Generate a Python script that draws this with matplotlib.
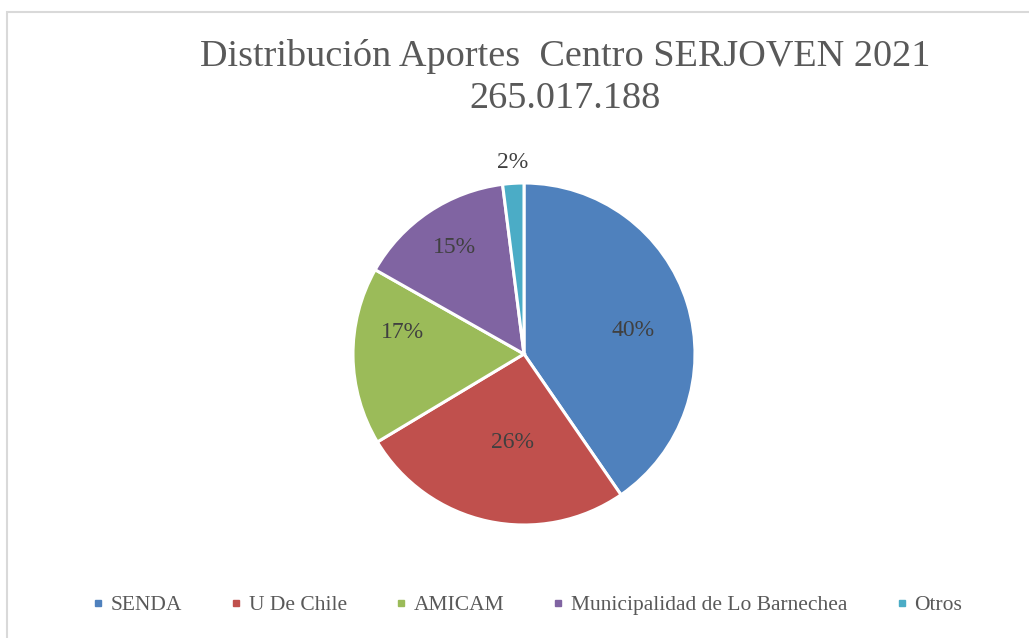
import matplotlib
matplotlib.use("Agg")
import matplotlib.pyplot as plt
from matplotlib.lines import Line2D
from matplotlib.patches import Rectangle

# data
categories = ["SENDA", "U De Chile", "AMICAM", "Municipalidad de Lo Barnechea", "Otros"]
shares = [40.4, 26.0, 16.8, 14.8, 2.0]
colors = ["#4F81BD", "#C0504D", "#9BBB59", "#8064A2", "#4BACC6"]
title_lines = ["Distribución Aportes  Centro SERJOVEN 2021", "265.017.188"]

# label positions in pie units (radius = 1)
label_xy = [(0.637, 0.140), (-0.070, -0.515), (-0.713, 0.123), (-0.404, 0.620), (-0.064, 1.117)]

W, H = 1029, 638
plt.rcParams['font.family'] = ['Liberation Serif', 'DejaVu Serif']
fig = plt.figure(figsize=(W / 100, H / 100), dpi=100)

# light grey chart border (left and top visible)
fig.patches.append(Rectangle((7 / W, -0.2), 1.2, 1.2 - 12 / H, transform=fig.transFigure,
                             fill=False, edgecolor="#d9d9d9", linewidth=1.5))

# pie axes placed in pixels: centre (524, 354), radius 171
cx, cy, r = 524, 354, 171
ax = fig.add_axes([(cx - r) / W, (H - cy - r) / H, 2 * r / W, 2 * r / H])
wedges, _ = ax.pie(shares, colors=colors, startangle=90, counterclock=False,
                   wedgeprops=dict(edgecolor="white", linewidth=2.2))
ax.set_xlim(-1, 1)
ax.set_ylim(-1, 1)
ax.set_aspect("equal")
ax.axis("off")

total = sum(shares)
for (x, y), v in zip(label_xy, shares):
    ax.text(x, y, "%.0f%%" % (100 * v / total), ha="center", va="center",
            fontsize=17, color="#404040", clip_on=False)

fig.text(565 / W, 1 - 56 / H, title_lines[0], ha="center", va="center", fontsize=27.5, color="#595959")
fig.text(565 / W, 1 - 99 / H, title_lines[1], ha="center", va="center", fontsize=27.5, color="#595959")

handles = [Line2D([], [], marker="s", linestyle="none", markersize=5,
                  markerfacecolor=c, markeredgecolor=c) for c in colors]
fig.legend(handles, categories, loc="center", bbox_to_anchor=(527 / W, 1 - 605 / H), ncol=5,
           frameon=False, fontsize=15.5, labelcolor="#595959", handlelength=0.6,
           handletextpad=0.3, columnspacing=2.2)

fig.savefig("out.png", dpi=100)
